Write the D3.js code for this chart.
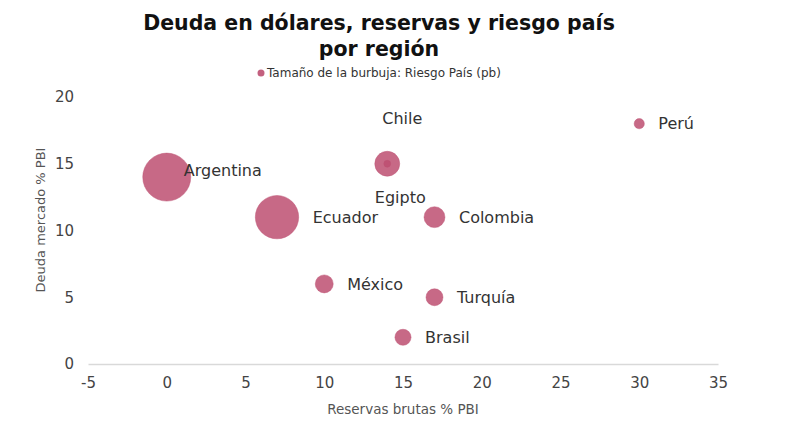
<!DOCTYPE html>
<html>
<head>
<meta charset="utf-8">
<script src="https://cdn.jsdelivr.net/npm/d3@7"></script>
<style>
  html, body { margin: 0; padding: 0; background: #fff; }
  svg { display: block; }
  text { font-family: "DejaVu Sans", sans-serif; }
</style>
</head>
<body>
<svg id="chart" width="800" height="441"></svg>
<script>
// ---- data ----
const countries = ["Argentina", "Ecuador", "Egipto", "Chile", "Colombia", "México", "Turquía", "Brasil", "Perú"];
const reservas  = [0, 7, 14, 14, 17, 10, 17, 15, 30];          // Reservas brutas % PBI
const deuda     = [14, 11, 15, 15, 11, 6, 5, 2, 18];           // Deuda mercado % PBI
const riesgo    = [2000, 1630, 540, 40, 380, 280, 250, 225, 90]; // Riesgo País (pb)
const xTicks = [-5, 0, 5, 10, 15, 20, 25, 30, 35];
const yTicks = [0, 5, 10, 15, 20];

// label placement (offsets relative to bubble centre, style only)
const labelDx     = [17, null, 13, 15, null, null, null, null, null];
const labelDy     = [-7, 0, 34, -45, 0, 0, 0, 0, 0];
const labelAnchor = ["start", "start", "middle", "middle", "start", "start", "start", "start", "start"];

// ---- layout ----
const svg = d3.select("#chart");
const x = d3.scaleLinear().domain([-5, 35]).range([88, 718]);
const y = d3.scaleLinear().domain([0, 20]).range([364, 97]);
const r = d3.scaleSqrt().domain([0, 2000]).range([0, 24]);

const fill = "#bd4f71";

// title
svg.append("text").attr("x", 379).attr("y", 30).attr("text-anchor", "middle")
  .style("font-weight", "bold").style("font-size", "20.5px").attr("fill", "#111")
  .text("Deuda en dólares, reservas y riesgo país");
svg.append("text").attr("x", 379).attr("y", 56).attr("text-anchor", "middle")
  .style("font-weight", "bold").style("font-size", "20.5px").attr("fill", "#111")
  .text("por región");

// legend
svg.append("circle").attr("cx", 261).attr("cy", 73).attr("r", 3.5).attr("fill", fill).attr("opacity", 0.9);
svg.append("text").attr("x", 267).attr("y", 77).style("font-size", "12px").attr("fill", "#333")
  .text("Tamaño de la burbuja: Riesgo País (pb)");

// x axis
const xAxis = svg.append("g").attr("transform", "translate(0,364)")
  .call(d3.axisBottom(x).tickValues(xTicks).tickSize(0).tickPadding(13).tickFormat(d => String(d)));
xAxis.select(".domain").attr("stroke", "#d9d9d9").attr("stroke-width", 1.5);
xAxis.selectAll("text").style("font-size", "15px").attr("fill", "#444")
  .style("font-family", "DejaVu Sans, sans-serif");

// y axis
const yAxis = svg.append("g").attr("transform", "translate(74,0)")
  .call(d3.axisLeft(y).tickValues(yTicks).tickSize(0).tickPadding(0).tickFormat(d => String(d)));
yAxis.select(".domain").remove();
yAxis.selectAll("text").style("font-size", "15px").attr("fill", "#444")
  .style("font-family", "DejaVu Sans, sans-serif");

// axis titles
svg.append("text").attr("x", 403).attr("y", 414).attr("text-anchor", "middle")
  .style("font-size", "13.5px").attr("fill", "#555").text("Reservas brutas % PBI");
svg.append("text").attr("transform", "translate(45,220) rotate(-90)").attr("text-anchor", "middle")
  .style("font-size", "13px").attr("fill", "#555").text("Deuda mercado % PBI");

// bubbles
const idx = d3.range(countries.length);
svg.append("g").selectAll("circle").data(idx).join("circle")
  .attr("cx", i => x(reservas[i]))
  .attr("cy", i => y(deuda[i]))
  .attr("r", i => r(riesgo[i]))
  .attr("fill", fill)
  .attr("fill-opacity", 0.85)
  .attr("stroke", fill)
  .attr("stroke-opacity", 0.45)
  .attr("stroke-width", 1);

// labels
svg.append("g").selectAll("text").data(idx).join("text")
  .attr("x", i => x(reservas[i]) + (labelDx[i] !== null ? labelDx[i] : r(riesgo[i]) + 14))
  .attr("y", i => y(deuda[i]) + labelDy[i])
  .attr("dy", "0.35em")
  .attr("text-anchor", i => labelAnchor[i])
  .style("font-size", "16px")
  .attr("fill", "#333")
  .text(i => countries[i]);
</script>
</body>
</html>
